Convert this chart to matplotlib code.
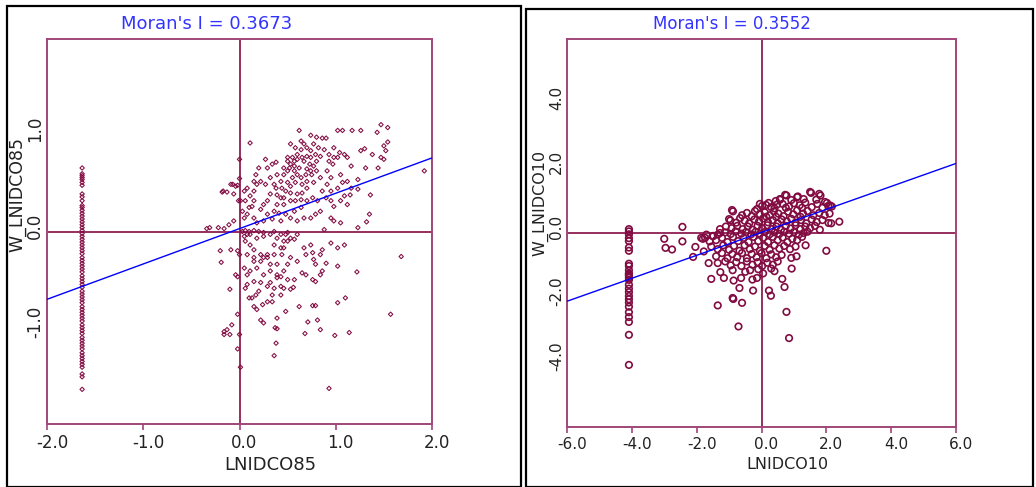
import matplotlib.pyplot as plt
import matplotlib.transforms as mtransforms
from matplotlib.patches import Rectangle

# Moran's I values and regression intercepts
left_I, left_b = 0.3673, 0.03
right_I, right_b = 0.3552, 0.02

# LNIDCO85 vs W_LNIDCO85 (observations away from the zero column)
left_cloud = [
    (1.47, 1.11), (1.54, 1.08), (1.43, 1.03), (1.02, 1.05), (1.07, 1.05), (1.17, 1.05), (1.26, 1.05),
    (0.62, 1.05), (0.74, 1.00), (0.80, 0.98), (0.86, 0.97), (0.90, 0.97), (0.11, 0.92), (1.54, 0.93),
    (1.50, 0.89), (1.26, 0.84), (1.30, 0.86), (1.38, 0.80), (1.47, 0.77), (1.52, 0.84), (1.50, 0.75),
    (1.44, 0.66), (1.31, 0.66), (1.92, 0.63), (1.16, 0.68), (1.23, 0.54), (1.36, 0.38), (1.23, 0.44),
    (1.35, 0.18), (1.32, 0.10), (1.23, 0.04), (1.68, -0.26), (1.57, -0.86), (1.22, -0.42), (1.10, -0.69),
    (1.02, -0.74), (1.14, -1.05), (0.99, -1.08), (0.93, -1.63), (0.84, -1.02), (0.81, -0.92), (0.71, -0.94),
    (0.68, -1.06), (0.76, -0.77), (0.79, -0.77), (0.62, -0.78), (0.48, -0.83), (0.39, -0.90), (0.37, -1.00),
    (0.39, -1.01), (0.38, -1.16), (0.36, -1.29), (0.01, -1.41), (-0.02, -1.22), (0.0, -1.07), (-0.02, -0.86),
    (-0.16, -1.04), (-0.13, -1.02), (-0.10, -1.07), (-0.16, -1.07), (-0.08, -0.97), (-0.10, -0.60),
    (-0.19, -0.32), (-0.20, -0.20), (-0.18, 0.41), (-0.13, 0.41), (-0.07, 0.49), (-0.02, 0.48),
    (-0.34, 0.03), (-0.31, 0.04), (-0.22, 0.04), (-0.16, 0.03), (-0.11, 0.07), (-0.06, 0.11),
    (-0.09, -0.19), (-0.02, -0.20), (0.0, -0.24), (-0.04, -0.45), (-0.02, -0.47),
    (0.15, -0.31), (0.20, -0.62), (0.15, -0.78), (0.18, -0.81), (0.22, -0.92), (0.25, -0.95), (0.17, -0.66),
    (0.08, -0.45), (0.08, -0.55), (0.10, -0.69), (0.24, -0.76), (0.29, -0.73), (0.34, -0.73), (0.34, -0.66),
    (0.43, -0.57), (0.46, -0.59), (0.53, -0.60), (0.56, -0.58), (0.50, -0.50), (0.57, -0.50), (0.65, -0.43),
    (0.69, -0.45), (0.76, -0.50), (0.79, -0.52), (0.84, -0.45), (0.86, -0.41), (0.90, -0.33), (0.95, -0.12),
    (1.02, -0.17), (1.09, -0.14), (1.02, -0.36), (0.86, -0.19), (0.84, -0.24), (0.77, -0.29), (0.79, -0.34),
    (0.74, -0.14), (0.76, -0.22), (0.67, -0.17), (0.69, -0.24), (0.57, -0.08), (0.60, -0.03), (0.48, -0.03),
    (0.50, -0.10), (0.43, -0.17), (0.44, -0.24), (0.36, -0.24), (0.39, -0.34), (0.29, -0.27), (0.32, -0.34),
    (0.22, -0.24), (0.25, -0.27), (0.11, -0.14), (0.15, -0.19), (0.06, -0.10), (0.08, -0.03), (0.03, 0.0),
    (0.06, 0.01), (0.10, 0.0), (0.15, 0.01), (0.20, 0.0), (0.25, -0.01), (0.36, 0.0), (0.43, -0.03),
    (0.50, -0.01), (0.39, -0.45), (0.43, -0.47), (0.46, -0.41), (0.50, -0.34), (0.29, -0.57), (0.32, -0.53),
    (0.05, -0.05), (0.11, -0.03), (0.18, -0.07), (0.25, -0.05), (0.32, -0.03), (0.39, -0.07), (0.46, -0.10),
    (0.53, -0.07), (0.08, -0.24), (0.15, -0.27), (0.22, -0.31), (0.29, -0.24), (0.36, -0.14), (0.46, -0.17),
    (0.53, -0.27), (0.60, -0.31), (0.05, -0.38), (0.11, -0.41), (0.18, -0.38), (0.25, -0.45), (0.32, -0.41),
    (0.39, -0.48), (0.15, -0.52), (0.22, -0.53), (0.36, -0.59), (0.43, -0.66), (0.06, -0.59), (0.13, -0.69),
    (0.08, 0.18), (0.10, 0.25), (0.06, 0.32), (0.11, 0.37), (0.15, 0.42), (0.18, 0.49), (0.22, 0.52),
    (0.17, 0.59), (0.20, 0.66), (0.27, 0.75), (0.29, 0.66), (0.34, 0.70), (0.38, 0.72), (0.39, 0.59),
    (0.36, 0.49), (0.32, 0.39), (0.29, 0.32), (0.25, 0.28), (0.22, 0.23), (0.46, 0.59), (0.50, 0.63),
    (0.53, 0.70), (0.57, 0.73), (0.50, 0.73), (0.60, 0.80), (0.64, 0.85), (0.67, 0.91), (0.70, 0.87),
    (0.74, 0.84), (0.79, 0.80), (0.84, 0.78), (0.80, 0.73), (0.77, 0.68), (0.74, 0.63), (0.69, 0.59),
    (0.64, 0.56), (0.58, 0.51), (0.53, 0.47), (0.48, 0.42), (0.43, 0.35), (0.39, 0.28), (0.36, 0.21),
    (0.46, 0.28), (0.53, 0.32), (0.60, 0.39), (0.65, 0.40), (0.70, 0.45), (0.77, 0.51), (0.84, 0.56),
    (0.91, 0.63), (0.97, 0.70), (1.02, 0.77), (1.09, 0.80), (1.12, 0.77), (0.95, 0.56), (1.05, 0.59),
    (1.07, 0.51), (1.02, 0.45), (0.95, 0.42), (0.90, 0.35), (0.95, 0.32), (0.98, 0.26), (1.05, 0.32),
    (1.12, 0.28), (0.84, 0.21), (0.79, 0.18), (0.74, 0.14), (0.95, 0.14), (0.98, 0.11), (1.05, 0.09),
    (0.88, 0.02), (0.64, 0.25), (0.57, 0.21), (0.53, 0.14), (0.60, 0.11), (0.67, 0.14), (0.29, 0.18),
    (0.34, 0.13), (0.25, 0.11), (0.18, 0.09), (0.15, 0.14), (0.43, 0.11), (0.48, 0.18), (0.41, 0.19),
    (0.70, 0.32), (0.76, 0.35), (0.81, 0.32), (0.86, 0.42), (0.91, 0.49), (1.12, 0.52), (1.16, 0.45),
    (1.15, 0.38), (1.09, 0.37), (0.53, 0.91), (0.58, 0.87), (0.64, 0.94), (0.67, 0.73), (0.73, 0.70),
    (0.62, 0.66), (0.57, 0.63), (0.43, 0.52), (0.38, 0.45), (0.32, 0.56), (0.27, 0.49), (0.15, 0.32),
    (0.13, 0.26), (0.05, 0.42), (0.08, 0.45), (0.15, 0.52), (0.01, 0.32), (0.03, 0.21), (0.05, 0.14),
    (0.0, 0.75), (-0.01, 0.32), (0.0, 0.55), (0.50, 0.77), (0.55, 0.77), (0.60, 0.75), (0.65, 0.77),
    (0.70, 0.78), (0.74, 0.77), (0.46, 0.66), (0.52, 0.66), (0.57, 0.68), (0.70, 0.65), (0.75, 0.59),
    (0.80, 0.63), (0.44, 0.45), (0.50, 0.51), (0.55, 0.56), (0.60, 0.59), (0.65, 0.49), (0.70, 0.52),
    (0.39, 0.38), (0.46, 0.35), (0.53, 0.40), (0.58, 0.32), (0.64, 0.33), (0.77, 0.91), (0.82, 0.87),
    (0.88, 0.85), (0.93, 0.80), (0.98, 0.87), (1.04, 0.82), (0.98, 0.77), (0.93, 0.73),
    (-0.09, 0.49), (-0.04, 0.47), (-0.06, 0.39), (-0.17, 0.42),
]

# zero-valued observations all share one standardized x
left_strip_x = -1.635
left_strip_y = [
    0.66, 0.60, 0.58, 0.56, 0.54, 0.51, 0.48, 0.39, 0.36, 0.32, 0.27, 0.25, 0.22, 0.19, 0.16, 0.13,
    0.10, 0.07, 0.04, 0.01, -0.02, -0.05, -0.08, -0.11, -0.14, -0.17, -0.20, -0.23, -0.27, -0.30,
    -0.33, -0.36, -0.39, -0.42, -0.46, -0.49, -0.52, -0.55, -0.58, -0.62, -0.65, -0.68, -0.71, -0.74,
    -0.78, -0.81, -0.84, -0.87, -0.90, -0.93, -0.97, -1.00, -1.03, -1.06, -1.10, -1.13, -1.16, -1.19,
    -1.22, -1.26, -1.29, -1.32, -1.35, -1.38, -1.41, -1.48, -1.51, -1.64,
]

# LNIDCO10 vs W_LNIDCO10
right_cloud = [
    (1.50, 1.27), (1.78, 1.21), (0.73, 1.18), (1.10, 1.11), (0.44, 0.99), (0.57, 1.05), (0.77, 1.16),
    (1.12, 1.13), (1.53, 1.24), (1.82, 1.16), (1.69, 1.03), (0.57, 1.03), (1.30, 1.05), (0.92, 1.02),
    (1.96, 0.96), (2.06, 0.84), (2.12, 0.85), (2.02, 0.93), (2.17, 0.82), (0.02, 0.84), (-0.14, 0.74),
    (0.14, 0.87), (0.30, 0.80), (0.48, 0.88), (0.65, 0.90), (0.85, 0.82), (1.00, 0.92), (1.18, 0.86),
    (1.35, 0.94), (1.55, 0.80), (1.72, 0.90), (1.88, 0.78), (-0.05, 0.90), (0.22, 0.93), (0.40, 0.76),
    (0.75, 0.78), (1.25, 0.78), (-0.91, 0.71), (-0.88, 0.67), (-0.60, 0.55), (-0.45, 0.62), (-0.30, 0.52),
    (-0.20, 0.68), (-0.05, 0.58), (0.10, 0.64), (0.25, 0.55), (0.38, 0.67), (0.52, 0.60), (0.68, 0.52),
    (0.82, 0.66), (0.98, 0.58), (1.10, 0.70), (1.28, 0.60), (1.42, 0.68), (1.60, 0.55), (1.78, 0.62),
    (1.95, 0.55), (2.10, 0.60), (0.15, 0.50), (0.45, 0.50), (1.20, 0.50), (-1.00, 0.43), (-0.66, 0.46),
    (-0.96, 0.39), (-0.78, 0.32), (-0.52, 0.38), (-0.38, 0.30), (-0.22, 0.42), (-0.08, 0.35), (0.05, 0.45),
    (0.20, 0.33), (0.35, 0.40), (0.50, 0.30), (0.62, 0.42), (0.78, 0.36), (0.92, 0.44), (1.05, 0.32),
    (1.22, 0.40), (1.38, 0.30), (1.55, 0.42), (1.70, 0.34), (1.88, 0.40), (2.07, 0.31), (2.40, 0.35),
    (2.15, 0.30), (-1.28, 0.12), (-1.10, 0.20), (-0.92, 0.15), (-0.75, 0.22), (-0.58, 0.12), (-0.42, 0.20),
    (-0.28, 0.10), (-0.12, 0.22), (0.02, 0.15), (0.18, 0.24), (0.32, 0.12), (0.46, 0.20), (0.60, 0.10),
    (0.75, 0.22), (0.90, 0.14), (1.05, 0.24), (1.20, 0.12), (1.35, 0.20), (1.50, 0.15), (1.65, 0.22),
    (1.80, 0.10), (-1.70, -0.05), (-1.50, -0.10), (-1.35, -0.05), (-1.28, 0.0), (-1.12, 0.02), (-0.95, -0.03),
    (-0.80, 0.05), (-0.62, -0.02), (-0.48, 0.03), (-0.32, -0.04), (-0.18, 0.04), (-0.05, -0.02), (0.10, 0.03),
    (0.25, -0.04), (0.40, 0.02), (0.55, -0.03), (0.70, 0.04), (0.85, -0.02), (1.00, 0.03), (1.15, -0.05),
    (1.30, 0.0), (1.42, 0.04), (-1.81, -0.18), (-1.60, -0.26), (-1.74, -0.15), (-1.86, -0.15), (-1.49, -0.09),
    (-1.40, -0.22), (-1.22, -0.15), (-1.05, -0.28), (-0.88, -0.12), (-0.72, -0.25), (-0.55, -0.15),
    (-0.40, -0.28), (-0.25, -0.12), (-0.10, -0.25), (0.05, -0.15), (0.20, -0.28), (0.35, -0.12), (0.50, -0.22),
    (0.65, -0.14), (0.80, -0.28), (0.95, -0.18), (1.10, -0.22), (1.25, -0.12), (-1.78, -0.57), (-1.55, -0.42),
    (-1.35, -0.50), (-1.18, -0.38), (-1.00, -0.52), (-0.85, -0.40), (-0.68, -0.55), (-0.52, -0.38),
    (-0.36, -0.50), (-0.20, -0.42), (-0.05, -0.55), (0.10, -0.40), (0.25, -0.52), (0.40, -0.38), (0.55, -0.48),
    (0.70, -0.40), (0.88, -0.50), (1.36, -0.38), (1.05, -0.42), (-1.40, -0.72), (-1.22, -0.62), (-1.05, -0.78),
    (-0.90, -0.65), (-0.75, -0.75), (-0.60, -0.62), (-0.45, -0.78), (-0.30, -0.65), (-0.15, -0.75), (0.0, -0.62),
    (0.15, -0.78), (0.30, -0.66), (0.45, -0.75), (0.62, -0.68), (0.92, -0.77), (1.08, -0.72), (-1.63, -0.93),
    (-1.35, -0.93), (-1.12, -0.88), (-0.95, -1.00), (-0.78, -0.90), (-0.62, -1.02), (-0.45, -0.88),
    (-0.28, -0.98), (-0.12, -0.90), (0.02, -1.02), (0.18, -0.92), (0.35, -0.98), (0.50, -0.88), (-1.55, -1.42),
    (-1.27, -1.21), (-1.16, -1.39), (-0.89, -1.15), (-0.63, -1.39), (-0.86, -1.47), (-0.50, -1.20),
    (-0.28, -1.44), (-0.14, -1.39), (-0.35, -1.15), (-0.10, -1.12), (0.05, -1.25), (0.30, -1.10), (0.64, -1.42),
    (0.93, -1.10), (0.40, -1.18), (-2.44, 0.19), (-3.00, -0.18), (-2.96, -0.46), (-2.76, -0.51), (-2.44, -0.26),
    (-2.04, -0.43), (-2.11, -0.74), (-1.35, -2.24), (-0.89, -2.01), (-0.87, -2.04), (-0.60, -2.16),
    (-0.71, -2.89), (-0.68, -1.70), (-0.26, -1.78), (0.23, -1.78), (0.29, -1.94), (0.71, -1.67), (0.77, -2.44),
    (0.85, -3.25), (2.00, -0.55),
]

right_strip_x = -4.09
right_strip_y = [
    0.12, 0.05, -0.04, -0.16, -0.25, -0.45, -0.55, -0.95, -1.02, -1.15, -1.25, -1.28, -1.32, -1.38,
    -1.45, -1.60, -1.72, -1.83, -1.95, -2.05, -2.15, -2.28, -2.45, -2.60, -2.75, -3.15, -4.08,
]

frame_col = '#a0467a'
quad_col = '#8c1f52'
pt_col = '#820c42'
title_col = '#3333ff'

fig = plt.figure(figsize=(10.36, 4.87), dpi=100)
W, H = 1036, 487


def px_axes(x0, y0, x1, y1):
    return fig.add_axes([x0 / W, 1 - y1 / H, (x1 - x0) / W, (y1 - y0) / H])


def style(ax, lim, xt, yt, tick_fs):
    ax.set_xlim(-lim, lim)
    ax.set_ylim(-lim, lim)
    for s in ax.spines.values():
        s.set_color(frame_col)
        s.set_linewidth(1.4)
    ax.axhline(0, color=quad_col, lw=1.3, zorder=1)
    ax.axvline(0, color=quad_col, lw=1.3, zorder=1)
    ax.set_xticks(xt)
    ax.set_xticklabels([f'{v:.1f}' for v in xt])
    ax.set_yticks(yt)
    ax.set_yticklabels([f'{v:.1f}' for v in yt], rotation=90, va='center')
    ax.tick_params(axis='x', direction='out', length=4, width=1.2, color=frame_col,
                   labelsize=tick_fs, labelcolor='#222222', pad=3)
    ax.tick_params(axis='y', length=0, labelsize=tick_fs, labelcolor='#222222', pad=2)
    xoff = mtransforms.ScaledTranslation(5 / 100, 0, fig.dpi_scale_trans)
    yoff = mtransforms.ScaledTranslation(0, 6 / 100, fig.dpi_scale_trans)
    for lab in ax.get_xticklabels():
        lab.set_transform(lab.get_transform() + xoff)
    for lab in ax.get_yticklabels():
        lab.set_transform(lab.get_transform() + yoff)


# left panel
ax1 = px_axes(47, 39, 432, 424)
style(ax1, 2, [-2, -1, 0, 1, 2], [-1, 0, 1], 12)
lx = [p[0] for p in left_cloud] + [left_strip_x] * len(left_strip_y)
ly = [p[1] for p in left_cloud] + left_strip_y
ax1.scatter(lx, ly, s=5, marker='D', facecolors='none', edgecolors=pt_col, linewidths=0.75, zorder=3)
ax1.plot([-2, 2], [left_b - 2 * left_I, left_b + 2 * left_I], color='#0000ff', lw=1.0, zorder=4)
ax1.set_xlabel('LNIDCO85', fontsize=13, color='#222222')
ax1.xaxis.set_label_coords((270 - 47) / 385, -(466 - 424 - 10) / 385)
ax1.set_ylabel('W_LNIDCO85', fontsize=12.5, color='#222222')
ax1.yaxis.set_label_coords((26 - 47) / 385, (424 - 195) / 385)

# right panel
ax2 = px_axes(567, 39, 956, 427)
style(ax2, 6, [-6, -4, -2, 0, 2, 4, 6], [-4, -2, 0, 2, 4], 11)
rx = [p[0] for p in right_cloud] + [right_strip_x] * len(right_strip_y)
ry = [p[1] for p in right_cloud] + right_strip_y
ax2.scatter(rx, ry, s=22, marker='o', facecolors='none', edgecolors=pt_col, linewidths=1.2, zorder=3)
ax2.plot([-6, 6], [right_b - 6 * right_I, right_b + 6 * right_I], color='#0000ff', lw=1.0, zorder=4)
ax2.set_xlabel('LNIDCO10', fontsize=11.5, color='#222222')
ax2.xaxis.set_label_coords((787 - 567) / 389, -(466 - 427 - 9) / 388)
ax2.set_ylabel('W_LNIDCO10', fontsize=11.5, color='#222222')
ax2.yaxis.set_label_coords((548 - 567) / 389, (427 - 203) / 388)

fig.text(207 / W, 1 - 24 / H, f"Moran's I = {left_I:.4f}", color=title_col, fontsize=13,
         ha='center', va='center')
fig.text(732 / W, 1 - 24 / H, f"Moran's I = {right_I:.4f}", color=title_col, fontsize=12,
         ha='center', va='center')

# window frames around each panel
for x0, y0, x1 in [(7, 6, 521), (526, 9, 1033)]:
    fig.patches.append(Rectangle((x0 / W, 0), (x1 - x0) / W, 1 - y0 / H, transform=fig.transFigure,
                                 fill=False, edgecolor='black', lw=1.6))

fig.savefig('out.png', dpi=100, facecolor='white')
